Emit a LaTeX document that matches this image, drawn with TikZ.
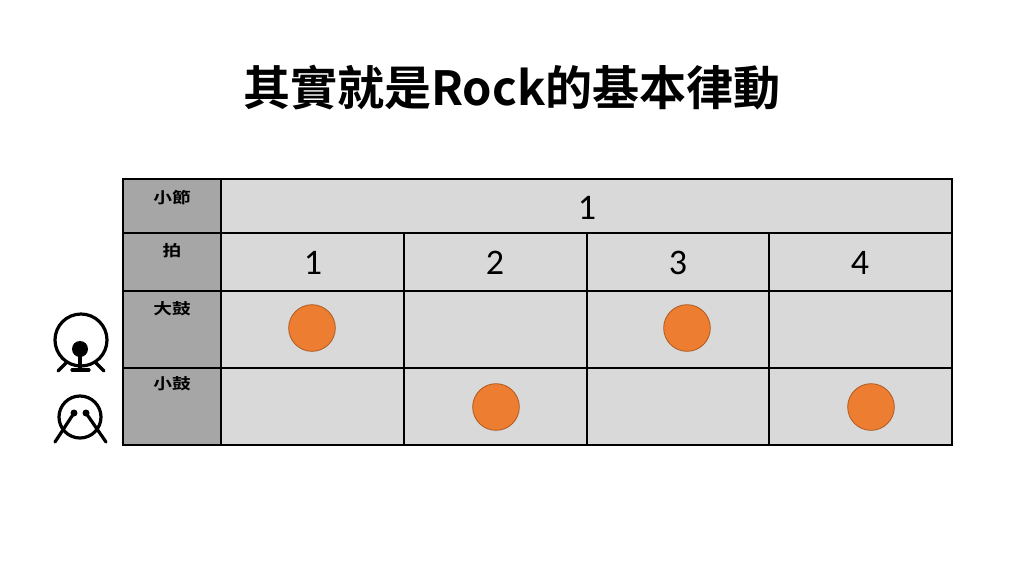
\documentclass[tikz,border=0pt]{standalone}
\usepackage{graphicx}
\usepackage{fontspec}
\setmainfont{Carlito}
\newfontfamily\cjk{Noto Sans CJK TC}
\newfontfamily\cjkb{Noto Sans CJK TC Bold}
\definecolor{lgray}{HTML}{D9D9D9}
\definecolor{dgray}{HTML}{A6A6A6}
\definecolor{dot}{HTML}{ED7D31}
\definecolor{dotb}{HTML}{AE5A21}
\newcommand{\wlabel}[1]{\scalebox{1.22}[1]{#1}}
\tikzset{
  cellL/.style={draw=black, line width=1.6, fill=lgray},
  cellD/.style={draw=black, line width=1.6, fill=dgray},
  hlabel/.style={font=\cjkb\fontsize{11.5}{13}\selectfont, anchor=north, inner sep=0},
  num/.style={font=\fontsize{27}{30}\selectfont, inner sep=0},
  hit/.style={circle, fill=dot, draw=dotb, line width=0.6, minimum size=35pt, inner sep=0},
  icon/.style={line width=2.4, line cap=round}
}
\begin{document}
\begin{tikzpicture}[x=0.75pt,y=-0.75pt]
\useasboundingbox (0,0) rectangle (1024,576);
\fill[white] (0,0) rectangle (1024,576);
\node[font=\cjkb\fontsize{35.3}{40}\selectfont, inner sep=0] (title) at (512,88) {其實就是Rock的基本律動};
% dark column
\draw[cellD] (123,179) rectangle (221,233);
\draw[cellD] (123,233) rectangle (221,291);
\draw[cellD] (123,291) rectangle (221,368);
\draw[cellD] (123,368) rectangle (221,445);
% measure row
\draw[cellL] (221,179) rectangle (952,233);
% beats
\foreach \a/\b in {221/404,404/587,587/769,769/952}{
  \draw[cellL] (\a,233) rectangle (\b,291);
  \draw[cellL] (\a,291) rectangle (\b,368);
  \draw[cellL] (\a,368) rectangle (\b,445);
}
\node[hlabel] (l1) at (172,190) {\wlabel{小節}};
\node[hlabel] (l2) at (172,243) {\wlabel{拍}};
\node[hlabel] (l3) at (172,301) {\wlabel{大鼓}};
\node[hlabel] (l4) at (172,376) {\wlabel{小鼓}};
\node[num] (m1) at (587,208) {1};
\node[num] (b1) at (313,263) {1};
\node[num] (b2) at (495,263) {2};
\node[num] (b3) at (678,263) {3};
\node[num] (b4) at (860,263) {4};
\node[hit] (h1) at (312,328) {};
\node[hit] (h2) at (496,407) {};
\node[hit] (h3) at (687,328) {};
\node[hit] (h4) at (871,407) {};
% bass drum icon
\draw[icon] (81,340) circle (26);
\fill (80,349) circle (8);
\draw[icon, line cap=butt] (80,349) -- (80,370);
\draw[icon] (72,370) -- (89,370);
\draw[icon] (58,371) -- (67,362);
\draw[icon] (104,371) -- (95,362);
% snare icon
\draw[icon] (80,417) circle (21);
\draw[icon] (74,413) -- (55,442);
\draw[icon] (86,413) -- (106,442);
\fill (74,413) circle (3.5);
\fill (86,413) circle (3.5);
\end{tikzpicture}
\end{document}
